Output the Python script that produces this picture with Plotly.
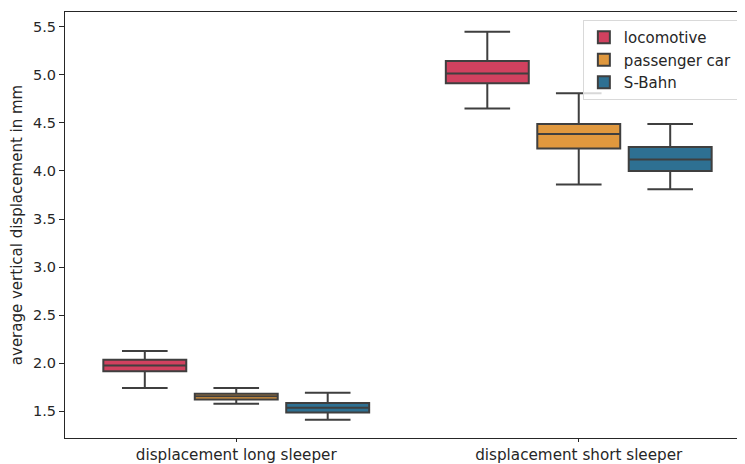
import plotly.graph_objects as go

categories = ["displacement long sleeper", "displacement short sleeper"]
series = ["locomotive", "passenger car", "S-Bahn"]
colors = ["#d1415f", "#e0983e", "#2e7092"]

# per series: values for [long, short]
lowerfence = {"locomotive": [1.74, 4.65], "passenger car": [1.575, 3.86], "S-Bahn": [1.41, 3.81]}
q1 = {"locomotive": [1.915, 4.915], "passenger car": [1.62, 4.235], "S-Bahn": [1.485, 4.0]}
median = {"locomotive": [1.975, 5.015], "passenger car": [1.655, 4.385], "S-Bahn": [1.535, 4.12]}
q3 = {"locomotive": [2.035, 5.145], "passenger car": [1.68, 4.49], "S-Bahn": [1.583, 4.25]}
upperfence = {"locomotive": [2.125, 5.45], "passenger car": [1.74, 4.81], "S-Bahn": [1.69, 4.49]}

fig = go.Figure()
for s, c in zip(series, colors):
    fig.add_trace(go.Box(
        name=s, x=categories,
        q1=q1[s], median=median[s], q3=q3[s],
        lowerfence=lowerfence[s], upperfence=upperfence[s],
        fillcolor=c, line=dict(color="#3f3f3f", width=2),
        whiskerwidth=0.55, boxpoints=False, hoverinfo="skip",
    ))

# page body has an 8px margin: figure sized/margined to compensate;
# the reference crops the right spine, so the plot extends past the window
fig.update_layout(
    width=745, height=456,
    margin=dict(l=57, r=3, t=4, b=26, autoexpand=False),
    boxmode="group", boxgroupgap=0.093, boxgap=0.199,
    plot_bgcolor="white", paper_bgcolor="white",
    font=dict(family="DejaVu Sans", size=15, color="#262626"),
    legend=dict(x=0.756, y=0.981, xanchor="left", yanchor="top",
                bgcolor="rgba(255,255,255,0.8)", bordercolor="#d9d9d9", borderwidth=1,
                font=dict(size=15), tracegroupgap=2),
    xaxis=dict(showline=True, linecolor="#262626", linewidth=1, mirror=True,
               ticks="outside", ticklen=3, tickcolor="#262626", showgrid=False,
               automargin=False, tickfont=dict(size=15.2)),
    yaxis=dict(range=[1.219, 5.656], tickvals=[1.5, 2.0, 2.5, 3.0, 3.5, 4.0, 4.5, 5.0, 5.5],
               ticktext=["1.5", "2.0", "2.5", "3.0", "3.5", "4.0", "4.5", "5.0", "5.5"],
               showline=True, linecolor="#262626", linewidth=1, mirror=True,
               ticks="outside", ticklen=5, tickcolor="#262626", showgrid=False, zeroline=False,
               automargin=False,
               title=dict(text="average vertical displacement in mm", font=dict(size=15), standoff=6),
               tickfont=dict(size=14.5)),
)
fig.write_html("out.html")
